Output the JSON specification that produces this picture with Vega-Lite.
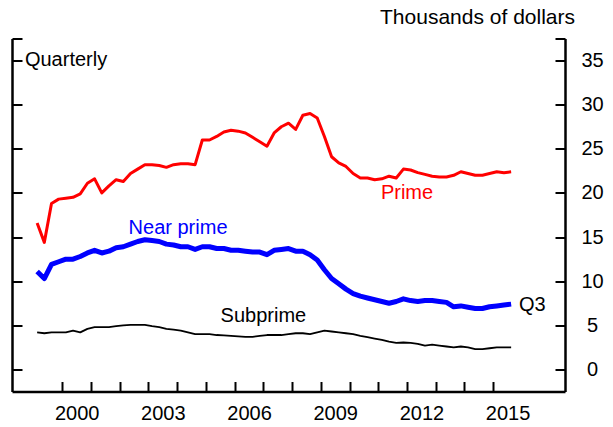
{
  "$schema": "https://vega.github.io/schema/vega-lite/v6.json",
  "width": 553,
  "height": 353,
  "autosize": {"type": "none"},
  "padding": {"left": 12, "top": 38.5, "right": 48, "bottom": 35.5},
  "background": "white",
  "config": {
    "view": {"stroke": null},
    "font": "Liberation Sans",
    "axis": {
      "domainColor": "black",
      "domainWidth": 2.5,
      "tickColor": "black",
      "tickWidth": 2,
      "labelColor": "black",
      "labelFont": "Liberation Sans",
      "labelFontSize": 20,
      "grid": false,
      "title": null
    }
  },
  "title": {
    "text": "Thousands of dollars",
    "anchor": "end",
    "frame": "group",
    "orient": "top",
    "font": "Liberation Sans",
    "fontSize": 21,
    "fontWeight": "normal",
    "color": "black",
    "baseline": "alphabetic",
    "dx": 10,
    "offset": -7
  },
  "datasets": {
    "lines": [
      {"t":1999.125,"s":"Prime","v":16.6},{"t":1999.375,"s":"Prime","v":14.4},{"t":1999.625,"s":"Prime","v":18.8},{"t":1999.875,"s":"Prime","v":19.3},
      {"t":2000.125,"s":"Prime","v":19.4},{"t":2000.375,"s":"Prime","v":19.5},{"t":2000.625,"s":"Prime","v":19.9},{"t":2000.875,"s":"Prime","v":21.1},
      {"t":2001.125,"s":"Prime","v":21.6},{"t":2001.375,"s":"Prime","v":20.0},{"t":2001.625,"s":"Prime","v":20.8},{"t":2001.875,"s":"Prime","v":21.5},
      {"t":2002.125,"s":"Prime","v":21.3},{"t":2002.375,"s":"Prime","v":22.2},{"t":2002.625,"s":"Prime","v":22.7},{"t":2002.875,"s":"Prime","v":23.2},
      {"t":2003.125,"s":"Prime","v":23.2},{"t":2003.375,"s":"Prime","v":23.1},{"t":2003.625,"s":"Prime","v":22.9},{"t":2003.875,"s":"Prime","v":23.2},
      {"t":2004.125,"s":"Prime","v":23.3},{"t":2004.375,"s":"Prime","v":23.3},{"t":2004.625,"s":"Prime","v":23.2},{"t":2004.875,"s":"Prime","v":26.0},
      {"t":2005.125,"s":"Prime","v":26.0},{"t":2005.375,"s":"Prime","v":26.4},{"t":2005.625,"s":"Prime","v":26.9},{"t":2005.875,"s":"Prime","v":27.1},
      {"t":2006.125,"s":"Prime","v":27.0},{"t":2006.375,"s":"Prime","v":26.8},{"t":2006.625,"s":"Prime","v":26.3},{"t":2006.875,"s":"Prime","v":25.8},
      {"t":2007.125,"s":"Prime","v":25.3},{"t":2007.375,"s":"Prime","v":26.8},{"t":2007.625,"s":"Prime","v":27.5},{"t":2007.875,"s":"Prime","v":27.9},
      {"t":2008.125,"s":"Prime","v":27.2},{"t":2008.375,"s":"Prime","v":28.8},{"t":2008.625,"s":"Prime","v":29.0},{"t":2008.875,"s":"Prime","v":28.5},
      {"t":2009.125,"s":"Prime","v":26.4},{"t":2009.375,"s":"Prime","v":24.1},{"t":2009.625,"s":"Prime","v":23.4},{"t":2009.875,"s":"Prime","v":23.0},
      {"t":2010.125,"s":"Prime","v":22.2},{"t":2010.375,"s":"Prime","v":21.7},{"t":2010.625,"s":"Prime","v":21.7},{"t":2010.875,"s":"Prime","v":21.5},
      {"t":2011.125,"s":"Prime","v":21.6},{"t":2011.375,"s":"Prime","v":21.9},{"t":2011.625,"s":"Prime","v":21.7},{"t":2011.875,"s":"Prime","v":22.7},
      {"t":2012.125,"s":"Prime","v":22.6},{"t":2012.375,"s":"Prime","v":22.3},{"t":2012.625,"s":"Prime","v":22.1},{"t":2012.875,"s":"Prime","v":21.9},
      {"t":2013.125,"s":"Prime","v":21.8},{"t":2013.375,"s":"Prime","v":21.8},{"t":2013.625,"s":"Prime","v":22.0},{"t":2013.875,"s":"Prime","v":22.4},
      {"t":2014.125,"s":"Prime","v":22.2},{"t":2014.375,"s":"Prime","v":22.0},{"t":2014.625,"s":"Prime","v":22.0},{"t":2014.875,"s":"Prime","v":22.2},
      {"t":2015.125,"s":"Prime","v":22.4},{"t":2015.375,"s":"Prime","v":22.3},{"t":2015.625,"s":"Prime","v":22.4},

      {"t":1999.125,"s":"Near prime","v":11.1},{"t":1999.375,"s":"Near prime","v":10.3},{"t":1999.625,"s":"Near prime","v":11.9},{"t":1999.875,"s":"Near prime","v":12.2},
      {"t":2000.125,"s":"Near prime","v":12.5},{"t":2000.375,"s":"Near prime","v":12.5},{"t":2000.625,"s":"Near prime","v":12.8},{"t":2000.875,"s":"Near prime","v":13.2},
      {"t":2001.125,"s":"Near prime","v":13.5},{"t":2001.375,"s":"Near prime","v":13.2},{"t":2001.625,"s":"Near prime","v":13.4},{"t":2001.875,"s":"Near prime","v":13.8},
      {"t":2002.125,"s":"Near prime","v":13.9},{"t":2002.375,"s":"Near prime","v":14.2},{"t":2002.625,"s":"Near prime","v":14.5},{"t":2002.875,"s":"Near prime","v":14.7},
      {"t":2003.125,"s":"Near prime","v":14.6},{"t":2003.375,"s":"Near prime","v":14.5},{"t":2003.625,"s":"Near prime","v":14.2},{"t":2003.875,"s":"Near prime","v":14.1},
      {"t":2004.125,"s":"Near prime","v":13.9},{"t":2004.375,"s":"Near prime","v":13.9},{"t":2004.625,"s":"Near prime","v":13.6},{"t":2004.875,"s":"Near prime","v":13.9},
      {"t":2005.125,"s":"Near prime","v":13.9},{"t":2005.375,"s":"Near prime","v":13.7},{"t":2005.625,"s":"Near prime","v":13.7},{"t":2005.875,"s":"Near prime","v":13.5},
      {"t":2006.125,"s":"Near prime","v":13.5},{"t":2006.375,"s":"Near prime","v":13.4},{"t":2006.625,"s":"Near prime","v":13.3},{"t":2006.875,"s":"Near prime","v":13.3},
      {"t":2007.125,"s":"Near prime","v":13.0},{"t":2007.375,"s":"Near prime","v":13.5},{"t":2007.625,"s":"Near prime","v":13.6},{"t":2007.875,"s":"Near prime","v":13.7},
      {"t":2008.125,"s":"Near prime","v":13.4},{"t":2008.375,"s":"Near prime","v":13.4},{"t":2008.625,"s":"Near prime","v":13.0},{"t":2008.875,"s":"Near prime","v":12.4},
      {"t":2009.125,"s":"Near prime","v":11.3},{"t":2009.375,"s":"Near prime","v":10.3},{"t":2009.625,"s":"Near prime","v":9.7},{"t":2009.875,"s":"Near prime","v":9.1},
      {"t":2010.125,"s":"Near prime","v":8.6},{"t":2010.375,"s":"Near prime","v":8.3},{"t":2010.625,"s":"Near prime","v":8.1},{"t":2010.875,"s":"Near prime","v":7.9},
      {"t":2011.125,"s":"Near prime","v":7.7},{"t":2011.375,"s":"Near prime","v":7.5},{"t":2011.625,"s":"Near prime","v":7.7},{"t":2011.875,"s":"Near prime","v":8.0},
      {"t":2012.125,"s":"Near prime","v":7.8},{"t":2012.375,"s":"Near prime","v":7.7},{"t":2012.625,"s":"Near prime","v":7.8},{"t":2012.875,"s":"Near prime","v":7.8},
      {"t":2013.125,"s":"Near prime","v":7.7},{"t":2013.375,"s":"Near prime","v":7.6},{"t":2013.625,"s":"Near prime","v":7.1},{"t":2013.875,"s":"Near prime","v":7.2},
      {"t":2014.125,"s":"Near prime","v":7.05},{"t":2014.375,"s":"Near prime","v":6.9},{"t":2014.625,"s":"Near prime","v":6.9},{"t":2014.875,"s":"Near prime","v":7.1},
      {"t":2015.125,"s":"Near prime","v":7.2},{"t":2015.375,"s":"Near prime","v":7.3},{"t":2015.625,"s":"Near prime","v":7.4},

      {"t":1999.125,"s":"Subprime","v":4.2},{"t":1999.375,"s":"Subprime","v":4.1},{"t":1999.625,"s":"Subprime","v":4.2},{"t":1999.875,"s":"Subprime","v":4.2},
      {"t":2000.125,"s":"Subprime","v":4.2},{"t":2000.375,"s":"Subprime","v":4.4},{"t":2000.625,"s":"Subprime","v":4.2},{"t":2000.875,"s":"Subprime","v":4.6},
      {"t":2001.125,"s":"Subprime","v":4.8},{"t":2001.375,"s":"Subprime","v":4.8},{"t":2001.625,"s":"Subprime","v":4.8},{"t":2001.875,"s":"Subprime","v":4.9},
      {"t":2002.125,"s":"Subprime","v":5.0},{"t":2002.375,"s":"Subprime","v":5.05},{"t":2002.625,"s":"Subprime","v":5.05},{"t":2002.875,"s":"Subprime","v":5.05},
      {"t":2003.125,"s":"Subprime","v":4.9},{"t":2003.375,"s":"Subprime","v":4.8},{"t":2003.625,"s":"Subprime","v":4.6},{"t":2003.875,"s":"Subprime","v":4.5},
      {"t":2004.125,"s":"Subprime","v":4.4},{"t":2004.375,"s":"Subprime","v":4.2},{"t":2004.625,"s":"Subprime","v":4.0},{"t":2004.875,"s":"Subprime","v":4.0},
      {"t":2005.125,"s":"Subprime","v":4.0},{"t":2005.375,"s":"Subprime","v":3.9},{"t":2005.625,"s":"Subprime","v":3.85},{"t":2005.875,"s":"Subprime","v":3.8},
      {"t":2006.125,"s":"Subprime","v":3.75},{"t":2006.375,"s":"Subprime","v":3.7},{"t":2006.625,"s":"Subprime","v":3.7},{"t":2006.875,"s":"Subprime","v":3.8},
      {"t":2007.125,"s":"Subprime","v":3.9},{"t":2007.375,"s":"Subprime","v":3.9},{"t":2007.625,"s":"Subprime","v":3.9},{"t":2007.875,"s":"Subprime","v":4.0},
      {"t":2008.125,"s":"Subprime","v":4.1},{"t":2008.375,"s":"Subprime","v":4.1},{"t":2008.625,"s":"Subprime","v":4.0},{"t":2008.875,"s":"Subprime","v":4.2},
      {"t":2009.125,"s":"Subprime","v":4.4},{"t":2009.375,"s":"Subprime","v":4.3},{"t":2009.625,"s":"Subprime","v":4.2},{"t":2009.875,"s":"Subprime","v":4.1},
      {"t":2010.125,"s":"Subprime","v":4.0},{"t":2010.375,"s":"Subprime","v":3.8},{"t":2010.625,"s":"Subprime","v":3.65},{"t":2010.875,"s":"Subprime","v":3.5},
      {"t":2011.125,"s":"Subprime","v":3.35},{"t":2011.375,"s":"Subprime","v":3.15},{"t":2011.625,"s":"Subprime","v":3.0},{"t":2011.875,"s":"Subprime","v":3.05},
      {"t":2012.125,"s":"Subprime","v":3.0},{"t":2012.375,"s":"Subprime","v":2.9},{"t":2012.625,"s":"Subprime","v":2.7},{"t":2012.875,"s":"Subprime","v":2.8},
      {"t":2013.125,"s":"Subprime","v":2.7},{"t":2013.375,"s":"Subprime","v":2.6},{"t":2013.625,"s":"Subprime","v":2.5},{"t":2013.875,"s":"Subprime","v":2.6},
      {"t":2014.125,"s":"Subprime","v":2.5},{"t":2014.375,"s":"Subprime","v":2.3},{"t":2014.625,"s":"Subprime","v":2.3},{"t":2014.875,"s":"Subprime","v":2.4},
      {"t":2015.125,"s":"Subprime","v":2.5},{"t":2015.375,"s":"Subprime","v":2.5},{"t":2015.625,"s":"Subprime","v":2.5}
    ],
    "serieslabels": [
      {"t":2012.0,"v":20.0,"s":"Prime","label":"Prime"},
      {"t":2004.03,"v":16.0,"s":"Near prime","label":"Near prime"},
      {"t":2007.0,"v":6.1,"s":"Subprime","label":"Subprime"}
    ],
    "notes": [
      {"t":2015.9,"v":7.3,"label":"Q3"},
      {"t":1998.7,"v":35.1,"label":"Quarterly"}
    ]
  },
  "encoding": {
    "x": {
      "field": "t", "type": "quantitative",
      "scale": {"domain": [1998.25, 2017.5], "nice": false, "zero": false},
      "axis": null
    },
    "y": {
      "field": "v", "type": "quantitative",
      "scale": {"domain": [-2.5, 37.5], "nice": false, "zero": false},
      "axis": null
    }
  },
  "layer": [
    {
      "data": {"name": "lines"},
      "transform": [{"filter": "datum.s == 'Subprime'"}],
      "mark": {"type": "line", "color": "#000000", "strokeWidth": 1.8, "strokeJoin": "round"},
      "encoding": {
        "x": {
          "field": "t", "type": "quantitative",
          "axis": {
            "orient": "bottom",
            "values": [2000,2001,2002,2003,2004,2005,2006,2007,2008,2009,2010,2011,2012,2013,2014,2015],
            "format": "d",
            "labelExpr": "(datum.value - 2000) % 3 == 0 ? datum.label : ''",
            "labelOffset": 14.4,
            "ticks": false,
            "tickSize": 0,
            "labelPadding": 12,
            "labelFlush": false,
            "labelOverlap": false
          }
        },
        "y": {
          "field": "v", "type": "quantitative",
          "axis": {
            "orient": "right",
            "values": [0,5,10,15,20,25,30,35],
            "ticks": false,
            "tickSize": 0,
            "labelAlign": "center",
            "labelPadding": 27,
            "labelBaseline": "middle",
            "labelFlush": false,
            "labelOverlap": false
          }
        }
      }
    },
    {
      "data": {"name": "lines"},
      "transform": [{"filter": "datum.s == 'Prime'"}],
      "mark": {"type": "line", "color": "#ff0000", "strokeWidth": 3, "strokeJoin": "round"},
      "encoding": {
        "x": {
          "field": "t", "type": "quantitative",
          "axis": {
            "orient": "top",
            "offset": -353,
            "values": [2000,2001,2002,2003,2004,2005,2006,2007,2008,2009,2010,2011,2012,2013,2014,2015],
            "labels": false,
            "domain": false,
            "tickSize": 10
          }
        },
        "y": {
          "field": "v", "type": "quantitative",
          "axis": {
            "orient": "left",
            "offset": -553,
            "values": [0,5,10,15,20,25,30,35,37.5],
            "labels": false,
            "domain": false,
            "tickSize": 10
          }
        }
      }
    },
    {
      "data": {"name": "lines"},
      "transform": [{"filter": "datum.s == 'Near prime'"}],
      "mark": {"type": "line", "color": "#0000ff", "strokeWidth": 5, "strokeJoin": "round"},
      "encoding": {
        "y": {
          "field": "v", "type": "quantitative",
          "axis": {
            "orient": "right",
            "offset": -553,
            "values": [0,5,10,15,20,25,30,35,37.5],
            "labels": false,
            "domain": true,
            "tickSize": 10
          }
        }
      }
    },
    {
      "data": {"name": "serieslabels"},
      "mark": {"type": "text", "align": "center", "baseline": "middle", "fontSize": 20, "font": "Liberation Sans"},
      "encoding": {
        "text": {"field": "label"},
        "color": {
          "field": "s", "type": "nominal",
          "scale": {"domain": ["Prime","Near prime","Subprime"], "range": ["#ff0000","#0000ff","#000000"]},
          "legend": null
        }
      }
    },
    {
      "data": {"name": "notes"},
      "mark": {"type": "text", "align": "left", "baseline": "middle", "fontSize": 20, "font": "Liberation Sans", "color": "black"},
      "encoding": {
        "text": {"field": "label"}
      }
    }
  ],
  "resolve": {"axis": {"x": "independent", "y": "independent"}}
}
